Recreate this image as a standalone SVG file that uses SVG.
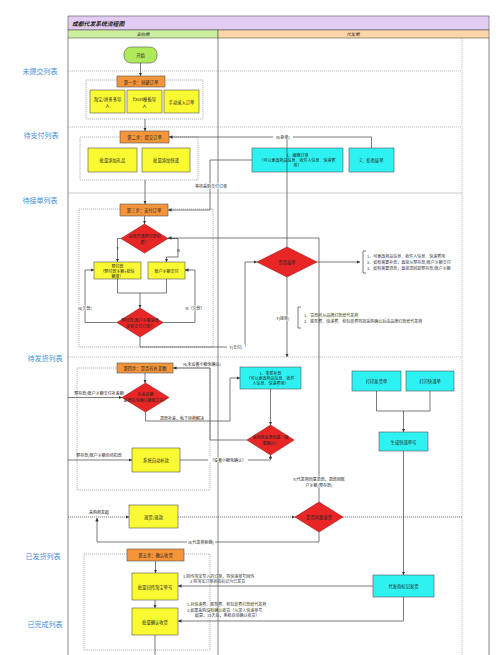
<svg xmlns="http://www.w3.org/2000/svg" width="500" height="655" viewBox="0 0 500 655">
<style>
.t{font-family:"Noto Sans CJK SC","Noto Sans",sans-serif;font-size:4.3px;fill:#222;text-anchor:middle;dominant-baseline:central}
.s{font-size:4px}
.n{font-family:"Noto Sans CJK SC","Noto Sans",sans-serif;font-size:4px;fill:#333;text-anchor:start;dominant-baseline:central}
.lab{font-family:"Noto Sans CJK SC","Noto Sans",sans-serif;font-size:7px;fill:#3D8FDD;text-anchor:middle;dominant-baseline:central}
.sep{stroke:#999;stroke-width:0.6;stroke-dasharray:1.2 0.8;fill:none}
.grp{fill:none;stroke:#888;stroke-width:0.6;stroke-dasharray:1.2 0.8}
.step{fill:#F5953A;stroke:#555;stroke-width:0.6}
.yel{fill:#FAFA32;stroke:#555;stroke-width:0.6}
.cy{fill:#2EF2F2;stroke:#555;stroke-width:0.6}
.red{fill:#E82626;stroke:#A01010;stroke-width:0.6}
.c{fill:none;stroke:#444;stroke-width:0.7}
.d{stroke-dasharray:1.2 0.8}
.bg{fill:#fff}
</style>
<defs>
<marker id="a" viewBox="0 0 6 6" refX="6" refY="3" markerWidth="5" markerHeight="5" orient="auto"><path d="M0,0L6,3L0,6z" fill="#333"/></marker>
</defs>
<rect width="500" height="655" fill="#fff"/>
<g id="frame">
<rect x="68" y="16" width="421" height="14" fill="#E3CCF2" stroke="#555" stroke-width="0.6"/>
<text x="72" y="23" class="t" style="text-anchor:start;font-size:5.8px;font-style:italic;font-weight:bold">成都代发系统流程图</text>
<rect x="68" y="30" width="150" height="8" fill="#CDEFA0" stroke="#555" stroke-width="0.6"/>
<rect x="218" y="30" width="271" height="8" fill="#FDD7A7" stroke="#555" stroke-width="0.6"/>
<text x="143" y="34" class="t" style="font-style:italic">采购商</text>
<text x="353" y="34" class="t" style="font-style:italic">代发商</text>
<path d="M68,38V655M218,38V655M489,38V655" stroke="#555" stroke-width="0.7" fill="none"/>
<path d="M462,38V655" class="sep"/>
<path d="M68,71H462M68,127H462M68,357H462" class="sep"/>
<path d="M68,193H462" stroke="#aaa" stroke-width="0.6"/>
</g>
<g id="lanes-labels">
<text x="40" y="71" class="lab">未提交列表</text>
<text x="41" y="135" class="lab">待支付列表</text>
<text x="40" y="200" class="lab">待接单列表</text>
<text x="45" y="358" class="lab">待发货列表</text>
<text x="43" y="556" class="lab">已发货列表</text>
<text x="45" y="624" class="lab">已完成列表</text>
</g>
<g id="groups">
<rect x="86" y="80" width="117" height="39" class="grp"/>
<rect x="80" y="137" width="118" height="43" class="grp"/>
<rect x="79" y="209" width="134" height="138" class="grp"/>
<rect x="77" y="368" width="133" height="122" class="grp"/>
<rect x="84" y="554" width="126" height="96" class="grp"/>
</g>
<g id="start"><rect x="124" y="47" width="33" height="16" rx="7" fill="#AEEA5A" stroke="#555" stroke-width="0.6"/><text x="140.5" y="55" class="t">开始</text></g>
<g id="step1"><rect x="117" y="76" width="48" height="11" class="step"/><text x="141" y="81.5" class="t">第一步：创建订单</text></g>
<g id="import-taobao"><rect x="90" y="90" width="35" height="23" class="yel"/><text x="107.5" y="98.5" class="t">淘宝/拼多多导</text><text x="107.5" y="104.5" class="t">入</text></g>
<g id="import-excel"><rect x="127" y="90" width="35" height="23" class="yel"/><text x="144.5" y="98.5" class="t">Excel模板导</text><text x="144.5" y="104.5" class="t">入</text></g>
<g id="manual"><rect x="164" y="90" width="35" height="23" class="yel"/><text x="181.5" y="101.5" class="t">手动录入订单</text></g>
<g id="step2"><rect x="120" y="131" width="49" height="12" class="step"/><text x="144.5" y="137" class="t">第二步：提交订单</text></g>
<g id="gift"><rect x="88" y="148" width="49" height="24" class="yel"/><text x="112.5" y="160" class="t">批量添加礼品</text></g>
<g id="express"><rect x="142" y="148" width="48" height="24" class="yel"/><text x="166" y="160" class="t">批量添加快递</text></g>
<g id="edit-order"><rect x="252" y="148" width="91" height="24" class="cy"/><text x="297.5" y="155" class="t s">1、编辑订单</text><text x="297.5" y="160" class="t s">（可以更改商品信息、收件人信息、快递费</text><text x="297.5" y="165" class="t s">用）</text></g>
<g id="reject"><rect x="349" y="148" width="45" height="24" class="cy"/><text x="371.5" y="160" class="t">2、拒绝接单</text></g>
<g id="step3"><rect x="120" y="204" width="48" height="12" class="step"/><text x="144" y="210" class="t">第三步：支付订单</text></g>
<g id="d-prepay"><path d="M144.5,224L168,238.5L144.5,253L121,238.5Z" class="red"/><text x="144.5" y="235.5" class="t s">是否开通预付款功</text><text x="144.5" y="241.5" class="t s">能？</text></g>
<g id="prepay"><rect x="94" y="262" width="47" height="17" class="yel"/><text x="117.5" y="265.5" class="t s">预付款</text><text x="117.5" y="270.5" class="t s">（预付款余额+授信</text><text x="117.5" y="275.5" class="t s">额度）</text></g>
<g id="balance"><rect x="148" y="262" width="37" height="17" class="yel"/><text x="166.5" y="270.5" class="t s">账户余额支付</text></g>
<g id="d-enough"><path d="M140,308L163,322.5L140,337L117,322.5Z" class="red"/><text x="140" y="319.5" class="t s">预付款/账户余额是否</text><text x="140" y="325.5" class="t s">足够支付订单？</text></g>
<g id="d-accept"><path d="M287,247L317,262L287,277L257,262Z" class="red"/><text x="287" y="262" class="t">是否接单</text></g>
<g id="step4"><rect x="117" y="363" width="56" height="10" class="step"/><text x="145" y="368" class="t">第四步：是否有补差额</text></g>
<g id="d-diff"><path d="M145.5,383L169,397.5L145.5,412L122,397.5Z" class="red"/><text x="145.5" y="394" class="t s">补差金额</text><text x="145.5" y="400" class="t s">是否在免确认额度之内？</text></g>
<g id="rediff"><rect x="240" y="367" width="61" height="22" class="cy"/><text x="270.5" y="373" class="t s">1、重新补款</text><text x="270.5" y="378" class="t s">（可以更改商品信息、收件</text><text x="270.5" y="383" class="t s">人信息、快递费用）</text></g>
<g id="d-agree"><path d="M270.5,425L294,440L270.5,455L247,440Z" class="red"/><text x="270.5" y="437" class="t s">采购商是否同意（需</text><text x="270.5" y="443" class="t s">要确认）</text></g>
<g id="auto"><rect x="132" y="448" width="48" height="24" class="yel"/><text x="156" y="460" class="t">系统自动补款</text></g>
<g id="print-ship"><rect x="352" y="371" width="49" height="20" class="cy"/><text x="376.5" y="381" class="t">打印发货单</text></g>
<g id="print-exp"><rect x="406" y="371" width="48" height="20" class="cy"/><text x="430" y="381" class="t">打印快递单</text></g>
<g id="gen-no"><rect x="379" y="432" width="49" height="19" class="cy"/><text x="403.5" y="441.5" class="t">生成快递单号</text></g>
<g id="return"><rect x="129" y="505" width="49" height="23" class="yel"/><text x="153.5" y="516.5" class="t">退货/退款</text></g>
<g id="d-return"><path d="M319,502L343,517L319,532L295,517Z" class="red"/><text x="319" y="517" class="t">是否同意退货</text></g>
<g id="step5"><rect x="127" y="549" width="57" height="12" class="step"/><text x="155.5" y="555" class="t">第五步：确认收货</text></g>
<g id="backfill"><rect x="132" y="573" width="46" height="27" class="yel"/><text x="155" y="586.5" class="t">批量回传淘宝单号</text></g>
<g id="confirm"><rect x="132" y="608" width="46" height="27" class="yel"/><text x="155" y="621.5" class="t">批量确认收货</text></g>
<g id="mark"><rect x="373" y="575" width="61" height="22" class="cy"/><text x="403.5" y="586" class="t">代发商标记发货</text></g>
<g id="connectors">
<path d="M140.5,63V76" class="c" marker-end="url(#a)"/>
<path d="M145,119V131" class="c" marker-end="url(#a)"/>
<path d="M145,180V204" class="c" marker-end="url(#a)"/>
<path d="M144.5,216V224" class="c" marker-end="url(#a)"/>
<path d="M287,247V137" class="c"/>
<path d="M371.5,148V137H169" class="c" marker-end="url(#a)"/>
<path d="M252,160H210V210H168" class="c" marker-end="url(#a)"/>
<path d="M121,238.5H117.5V262" class="c" marker-end="url(#a)"/>
<path d="M168,238.5H178V257H166.5V262" class="c" marker-end="url(#a)"/>
<path d="M319,502V238H168" class="c" marker-end="url(#a)"/>
<path d="M117.5,279V293H166.5V279" class="c"/>
<path d="M140,293V308" class="c" marker-end="url(#a)"/>
<path d="M117,322.5H85V270H94" class="c" marker-end="url(#a)"/>
<path d="M163,322.5H195V270H185" class="c" marker-end="url(#a)"/>
<path d="M140,337V347H245V262H257" class="c" marker-end="url(#a)"/>
<path d="M317,262H360" class="c" marker-end="url(#a)"/>
<path d="M366,251H363V273H366" class="c"/>
<path d="M287,277V357" class="c" marker-end="url(#a)"/>
<path d="M301,307H298V328H301" class="c"/>
<path d="M145,373V383" class="c" marker-end="url(#a)"/>
<path d="M68,397.5H122" class="c" marker-end="url(#a)"/>
<path d="M145.5,412V421H230V378H240" class="c" marker-end="url(#a)"/>
<path d="M247,440H210V368H173" class="c" marker-end="url(#a)"/>
<path d="M270.5,389V425" class="c" marker-end="url(#a)"/>
<path d="M180,460H270.5V455" class="c" marker-end="url(#a)"/>
<path d="M68,460H132" class="c" marker-end="url(#a)"/>
<path d="M376.5,391V411H430V391" class="c"/>
<path d="M403.5,411V432" class="c" marker-end="url(#a)"/>
<path d="M403.5,451V575" class="c" marker-end="url(#a)"/>
<path d="M68,517H129" class="c d" marker-end="url(#a)"/>
<path d="M178,517H295" class="c d" marker-end="url(#a)"/>
<path d="M343,517H462" class="c d"/>
<path d="M319,532V542H97V518" class="c" marker-end="url(#a)"/>
<path d="M155.5,561V573" class="c" marker-end="url(#a)"/>
<path d="M155,600V608" class="c" marker-end="url(#a)"/>
<path d="M155,635V655" class="c"/>
<path d="M373,586H178" class="c" marker-end="url(#a)"/>
<path d="M403.5,597V621H178" class="c" marker-end="url(#a)"/>
</g>
<g id="connector-labels">
<rect x="273" y="134.5" width="20" height="5" class="bg"/><text x="283" y="137" class="t s">N(拒单)</text>
<rect x="192" y="183.5" width="38" height="5" class="bg"/><text x="211" y="186" class="t s">等待采购支付订单</text>
<text x="117.5" y="248" class="t s">Y</text>
<text x="178.5" y="250" class="t s" style="fill:#222">N</text>
<rect x="76" y="305.5" width="18" height="5" class="bg"/><text x="85" y="308" class="t s">N(欠款)</text>
<rect x="185" y="305.5" width="20" height="5" class="bg"/><text x="195" y="308" class="t s">N（欠款）</text>
<rect x="227" y="344.5" width="18" height="5" class="bg"/><text x="236" y="347" class="t s">Y(支付)</text>
<text x="367" y="256" class="n">1、可更改商品信息、收件人信息、快递费用</text>
<text x="367" y="262" class="n">2、如有需要补款，直接从预存款/账户余额支付</text>
<text x="367" y="268" class="n">3、如有需要退款，直接退回到预存款/账户余额</text>
<rect x="273" y="315.5" width="20" height="5" class="bg"/><text x="283" y="318" class="t s">Y(接单)</text>
<text x="304" y="314.5" class="n">1、货款可从品牌打款给代发商</text>
<text x="304" y="320.5" class="n">2、服务费、快递费、和包装费将按采购确认后由品牌打款给代发商</text>
<text x="202" y="363.5" class="t s">N(未设置小额免确认)</text>
<text x="99" y="392.5" class="t s">预存款/账户余额支付补差额</text>
<text x="182" y="418" class="t s">退款补差，私下协商解决</text>
<rect x="208" y="457.5" width="40" height="5" class="bg"/><text x="228" y="460" class="t s">（设置小额免确认）</text>
<text x="99" y="455" class="t s">预存款/账户余额自动扣款</text>
<rect x="290" y="476.5" width="58" height="11" class="bg"/><text x="319" y="479" class="t s">Y(代发商同意退款，退款回账</text><text x="319" y="485" class="t s">户余额/预存款)</text>
<text x="99" y="512" class="t s">采购商发起</text>
<rect x="187" y="539.5" width="28" height="5" class="bg"/><text x="201" y="542" class="t s">N(代发商拒绝)</text>
<text x="183" y="576" class="n">1.回传淘宝导入的订单，将快递单号回传</text>
<text x="190" y="581" class="n">2.将淘宝订单状态标记为已发货</text>
<text x="187" y="604" class="n">1.对快递费、服务费、和包装费打款给代发商</text>
<text x="187" y="609.5" class="n">2.如果采购没有确认收货（从录入快递单号</text>
<text x="195" y="615" class="n">起算，15天后，系统自动确认收货）</text>
</g>
</svg>
